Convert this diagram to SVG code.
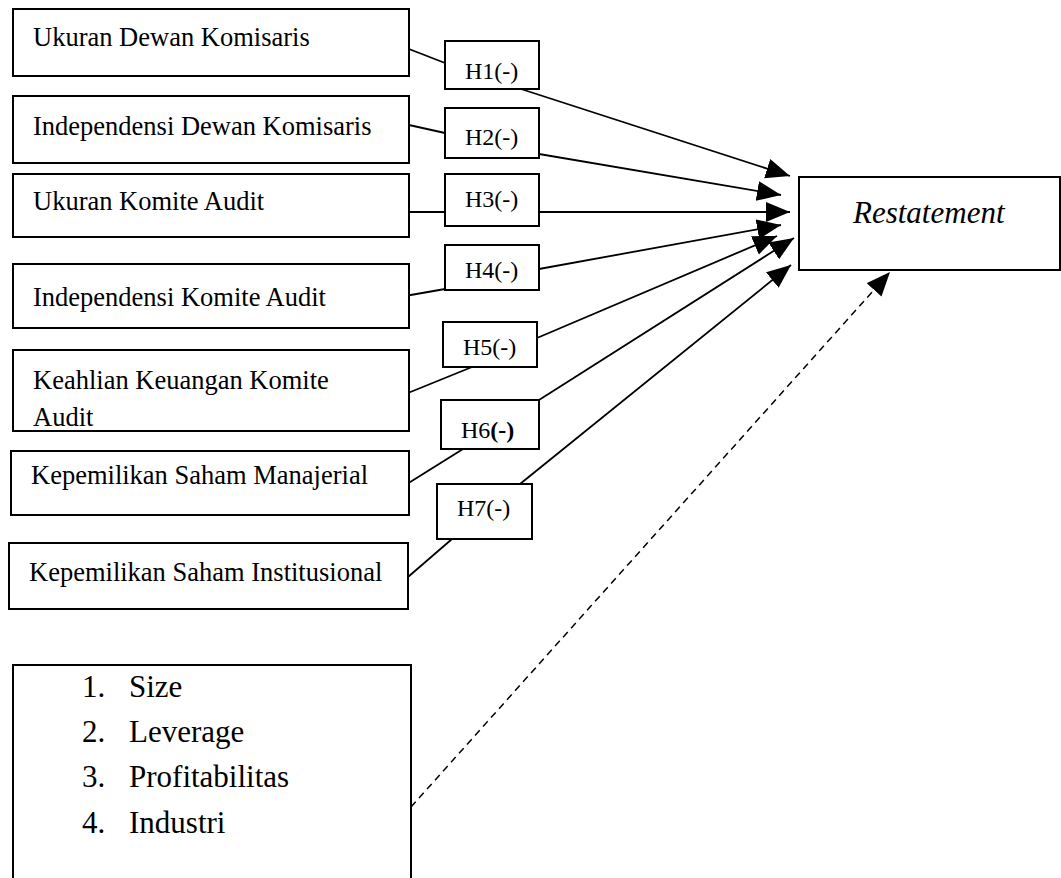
<svg xmlns="http://www.w3.org/2000/svg" width="1061" height="878" viewBox="0 0 1061 878">
<defs>
<style>
.box{fill:#fff;stroke:#000;stroke-width:2}
text{font-family:'Liberation Serif','Times New Roman',Times,serif;fill:#000}
.t{font-size:26.5px}
.h{font-size:24px}
.l{font-size:31px}
.r{font-size:31px;font-style:italic}
.c{fill:none;stroke:#000;stroke-width:1.8}
.a{marker-end:url(#arr)}
.d{stroke-dasharray:7,5;stroke-width:1.5}
</style>
<marker id="arr" markerUnits="userSpaceOnUse" markerWidth="26" markerHeight="22" refX="24" refY="10" orient="auto" viewBox="0 0 26 22">
<path d="M0,0 L24,10 L0,20 z" fill="#000"/>
</marker>
</defs>
<rect width="1061" height="878" fill="#fff"/>

<g id="connectors">
<line class="c" x1="409" y1="49" x2="445" y2="63"/>
<line class="c" x1="409" y1="125" x2="445" y2="133"/>
<line class="c" x1="405" y1="212" x2="445" y2="212"/>
<line class="c" x1="405" y1="296" x2="445" y2="289"/>
<line class="c" x1="408" y1="393" x2="472" y2="367"/>
<line class="c" x1="407" y1="484" x2="463" y2="449"/>
<line class="c" x1="408" y1="577" x2="452" y2="539"/>
<line class="c a" x1="521" y1="89" x2="790" y2="176"/>
<line class="c a" x1="539" y1="154" x2="781" y2="195"/>
<line class="c a" x1="539" y1="212" x2="790" y2="212"/>
<line class="c a" x1="539" y1="269" x2="781" y2="225"/>
<line class="c a" x1="537" y1="338" x2="777" y2="236"/>
<line class="c a" x1="539" y1="400" x2="794" y2="238"/>
<line class="c a" x1="520" y1="484" x2="791" y2="265"/>
<line class="c d a" x1="411" y1="807" x2="890" y2="272"/>
</g>

<g id="n1"><rect class="box" x="13" y="9" width="396" height="67"/><text class="t" x="33" y="46">Ukuran Dewan Komisaris</text></g>
<g id="n2"><rect class="box" x="13" y="96" width="396" height="67"/><text class="t" x="33" y="135">Independensi Dewan Komisaris</text></g>
<g id="n3"><rect class="box" x="13" y="174" width="396" height="63"/><text class="t" x="33" y="210">Ukuran Komite Audit</text></g>
<g id="n4"><rect class="box" x="13" y="264" width="396" height="64"/><text class="t" x="33" y="306">Independensi Komite Audit</text></g>
<g id="n5"><rect class="box" x="13" y="350" width="396" height="81"/><text class="t" x="33" y="389">Keahlian Keuangan Komite</text><text class="t" x="33" y="426">Audit</text></g>
<g id="n6"><rect class="box" x="11" y="451" width="398" height="64"/><text class="t" x="31" y="484">Kepemilikan Saham Manajerial</text></g>
<g id="n7"><rect class="box" x="9" y="543" width="399" height="66"/><text class="t" x="29" y="581">Kepemilikan Saham Institusional</text></g>

<g id="h1"><rect class="box" x="445" y="41" width="94" height="48"/><text class="h" x="465" y="79">H1(-)</text></g>
<g id="h2"><rect class="box" x="445" y="108" width="94" height="50"/><text class="h" x="465" y="145">H2(-)</text></g>
<g id="h3"><rect class="box" x="445" y="174" width="94" height="52"/><text class="h" x="465" y="207">H3(-)</text></g>
<g id="h4"><rect class="box" x="445" y="245" width="94" height="45"/><text class="h" x="465" y="278">H4(-)</text></g>
<g id="h5"><rect class="box" x="443" y="322" width="94" height="45"/><text class="h" x="463" y="355">H5(-)</text></g>
<g id="h6"><rect class="box" x="441" y="400" width="98" height="49"/><text class="h" x="461" y="438">H6<tspan font-weight="bold">(-)</tspan></text></g>
<g id="h7"><rect class="box" x="437" y="484" width="95" height="55"/><text class="h" x="457" y="516">H7(-)</text></g>

<g id="restatement"><rect class="box" x="799" y="177" width="261" height="93"/><text class="r" x="853" y="223">Restatement</text></g>

<g id="controls"><rect class="box" x="13" y="665" width="398" height="218"/>
<text class="l" x="82" y="697">1.</text><text class="l" x="129" y="697">Size</text>
<text class="l" x="82" y="742">2.</text><text class="l" x="129" y="742">Leverage</text>
<text class="l" x="82" y="787">3.</text><text class="l" x="129" y="787">Profitabilitas</text>
<text class="l" x="82" y="833">4.</text><text class="l" x="129" y="833">Industri</text>
</g>
</svg>
